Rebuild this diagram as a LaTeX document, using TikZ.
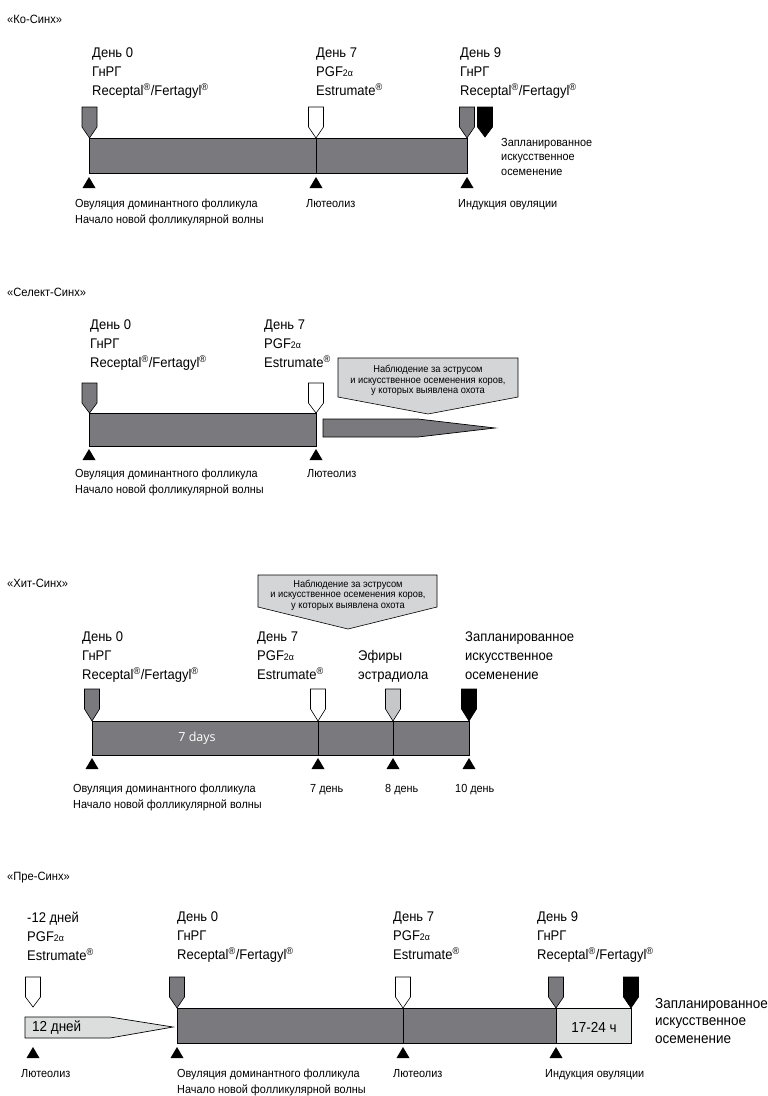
\documentclass[tikz,border=0pt]{standalone}
\usepackage{fontspec}
\setmainfont{Liberation Sans}[FakeStretch=0.93]
\newfontfamily\opensans{Open Sans}
\definecolor{darkbar}{HTML}{7A7A7E}
\definecolor{lightbar}{HTML}{DCDDDD}
\definecolor{callout}{HTML}{D4D5D6}
\definecolor{lightmk}{HTML}{C5C7C9}
\newcommand\reg{\textsuperscript{®}}
\newcommand\pgfa{PGF{\fontsize{9.5}{9.5}\selectfont 2α}}
\newcommand\drop[4]{\draw[mk, fill=#4] (#1-7.5,#2) -- (#1+7.5,#2) -- (#1+7.5,#2+20) -- (#1,#3) -- (#1-7.5,#2+20) -- cycle;}
\newcommand\tri[2]{\fill (#1-6.5,#2+11) -- (#1+6.5,#2+11) -- (#1,#2) -- cycle;}
\tikzset{
  mk/.style={draw=black, line width=0.6pt},
  bar/.style={draw=black, line width=0.7pt, fill=darkbar},
  lbar/.style={draw=black, line width=0.7pt, fill=lightbar},
  divider/.style={draw=black, line width=0.7pt},
  title/.style={font=\fontsize{12}{14}\selectfont, anchor=west, inner sep=0pt},
  big/.style={font=\fontsize{14}{19}\selectfont, align=left, anchor=north west, inner sep=0pt},
  small/.style={font=\fontsize{11.7}{16}\selectfont, align=left, anchor=north west, inner sep=0pt},
  note/.style={font=\fontsize{10}{10.5}\selectfont, align=center, inner sep=0pt},
  box/.style={draw=black, line width=0.6pt, fill=callout},
}
\begin{document}
\begin{tikzpicture}[x=1pt,y=-1pt]
\useasboundingbox (0,0) rectangle (768,1096);
% ================= Ko-Sinh
\node[title] (t1) at (7,19) {«Ко-Синх»};
\node[big] (k0) at (92,48) {День 0\\ГнРГ\\Receptal\reg/Fertagyl\reg};
\node[big] (k7) at (316,48) {День 7\\\pgfa\\Estrumate\reg};
\node[big] (k9) at (460,48) {День 9\\ГнРГ\\Receptal\reg/Fertagyl\reg};
\draw[bar] (89,138) rectangle (467,173);
\draw[divider] (316,138) -- (316,173);
\drop{89.5}{107}{138}{darkbar}
\drop{316}{107}{138}{white}
\drop{467}{107}{138}{darkbar}
\drop{485}{107}{137}{black}
\tri{89}{177}\tri{316}{177}\tri{467}{177}
\node[small] (kl0) at (75,199) {Овуляция доминантного фолликула\\Начало новой фолликулярной волны};
\node[small] (kl7) at (306,199) {Лютеолиз};
\node[small] (kl9) at (458,199) {Индукция овуляции};
\node[small, font=\fontsize{11.7}{14.5}\selectfont] (kai) at (501,138) {Запланированное\\искусственное\\осеменение};
% ================= Select-Sinh
\node[title] (t2) at (7,292) {«Селект-Синх»};
\node[big] (s0) at (90,320) {День 0\\ГнРГ\\Receptal\reg/Fertagyl\reg};
\node[big] (s7) at (264,320) {День 7\\\pgfa\\Estrumate\reg};
\draw[bar] (89,413) rectangle (316,446);
\drop{89.5}{383}{413}{darkbar}
\drop{316}{383}{413}{white}
\tri{89}{449}\tri{316}{449}
\node[small] (sl0) at (75,469) {Овуляция доминантного фолликула\\Начало новой фолликулярной волны};
\node[small] (sl7) at (307,469) {Лютеолиз};
\draw[bar] (323,419) -- (418,419) -- (495,428) -- (418,437) -- (323,437) -- cycle;
\draw[box] (338,358) -- (518,358) -- (518,397) -- (428,414) -- (338,397) -- cycle;
\node[note] (sn) at (428,380.5) {Наблюдение за эструсом\\и искусственное осеменения коров,\\у которых выявлена охота};
% ================= Hit-Sinh
\node[title] (t3) at (7,583) {«Хит-Синх»};
\draw[box] (258,575) -- (437,575) -- (437,607) -- (348,629) -- (258,607) -- cycle;
\node[note] (hn) at (348,595) {Наблюдение за эструсом\\и искусственное осеменения коров,\\у которых выявлена охота};
\node[big] (h0) at (82,632) {День 0\\ГнРГ\\Receptal\reg/Fertagyl\reg};
\node[big] (h7) at (257,632) {День 7\\\pgfa\\Estrumate\reg};
\node[big] (h8) at (358,650) {Эфиры\\эстрадиола};
\node[big] (h10) at (465,632) {Запланированное\\искусственное\\осеменение};
\draw[bar] (92,721) rectangle (469,755);
\draw[divider] (318,721) -- (318,755);
\draw[divider] (393,721) -- (393,755);
\drop{92}{689}{721}{darkbar}
\drop{318}{689}{721}{white}
\drop{393}{689}{721}{lightmk}
\drop{469}{689}{721}{black}
\node[font=\opensans\fontsize{12.5}{14}\selectfont, text=white, inner sep=0pt] (days) at (197,738) {7 days};
\tri{92}{758}\tri{318}{758}\tri{393}{758}\tri{469}{758}
\node[small] (hl0) at (73,784) {Овуляция доминантного фолликула\\Начало новой фолликулярной волны};
\node[small] (hl7) at (310,784) {7 день};
\node[small] (hl8) at (385,784) {8 день};
\node[small] (hl10) at (455,784) {10 день};
% ================= Pre-Sinh
\node[title] (t4) at (7,878) {«Пре-Синх»};
\node[big] (p12) at (27,912) {-12 дней\\\pgfa\\Estrumate\reg};
\node[big] (p0) at (177,912) {День 0\\ГнРГ\\Receptal\reg/Fertagyl\reg};
\node[big] (p7) at (393,912) {День 7\\\pgfa\\Estrumate\reg};
\node[big] (p9) at (537,912) {День 9\\ГнРГ\\Receptal\reg/Fertagyl\reg};
\draw[lbar] (25,1017) -- (110,1017) -- (173,1027) -- (110,1038) -- (25,1038) -- cycle;
\node[font=\fontsize{14.5}{16}\selectfont, anchor=west, inner sep=0pt] (p12d) at (32,1027.5) {12 дней};
\draw[bar] (177,1008) rectangle (556,1043);
\draw[lbar] (556,1008) rectangle (631,1043);
\draw[divider] (403,1008) -- (403,1043);
\drop{33}{977}{1007}{white}
\drop{177}{977}{1008}{darkbar}
\drop{403}{977}{1008}{white}
\drop{556}{977}{1008}{darkbar}
\drop{631}{977}{1008}{black}
\node[font=\fontsize{14.5}{16}\selectfont, inner sep=0pt] (p1724) at (594,1027.5) {17-24 ч};
\node[big, font=\fontsize{14.5}{17.5}\selectfont] (pai) at (655,998) {Запланированное\\искусственное\\осеменение};
\tri{33}{1047}\tri{177}{1047}\tri{403}{1047}\tri{556}{1047}
\node[small] (pl12) at (21,1069) {Лютеолиз};
\node[small] (pl0) at (177,1069) {Овуляция доминантного фолликула\\Начало новой фолликулярной волны};
\node[small] (pl7) at (393,1069) {Лютеолиз};
\node[small] (pl9) at (545,1069) {Индукция овуляции};
\end{tikzpicture}
\end{document}
